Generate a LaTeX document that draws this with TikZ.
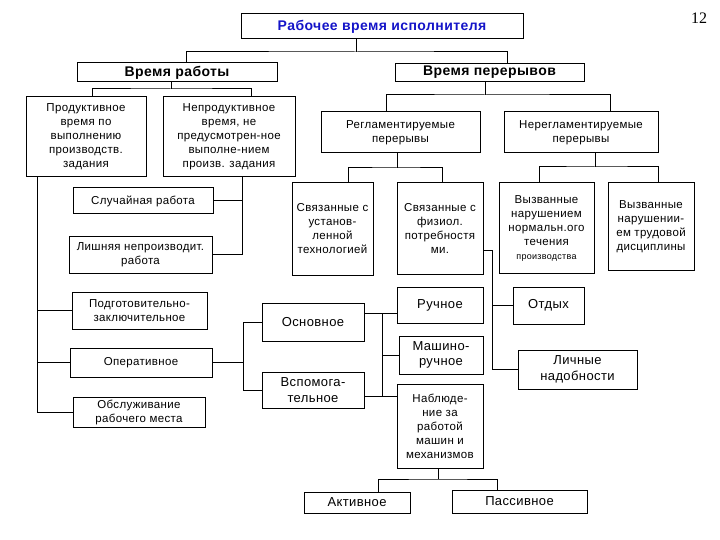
\documentclass[tikz,border=0pt]{standalone}
\usepackage{fontspec}
\setmainfont{Liberation Sans}[LetterSpace=3]
\newfontfamily\numfont{Liberation Serif}
\usetikzlibrary{calc}
\newcommand\fsz[2]{\fontsize{#1}{#2}\selectfont}
\definecolor{ttl}{RGB}{20,20,200}

\begin{document}
\begin{tikzpicture}[x=1pt,y=-1pt,line width=1pt,
 box/.style={draw,align=center,inner sep=1pt},
 sm/.style={box,font=\fsz{11.5}{14}},
 bg/.style={box,font=\fsz{13}{15.5}},
 hd/.style={box,font=\bfseries\fsz{14}{16}}]
\useasboundingbox(0,0)rectangle(720,540);
\node[font=\numfont\fsz{16}{18}](pg)at(699,18){12};
\node[hd,text=ttl,minimum width=282pt,minimum height=25pt](top)at(382,26.5){Рабочее время исполнителя};
\node[hd,minimum width=200pt,minimum height=19pt](rab)at(177,72.5){Время работы};
\node[hd,minimum width=189pt,minimum height=18pt](per)at(489.5,72.5){Время перерывов};
% work time
\node[sm,minimum width=120pt,minimum height=80pt](prod)at(86,137){Продуктивное\\время по\\выполнению\\производств.\\задания};
\node[sm,minimum width=132pt,minimum height=80pt](nprod)at(229,137){Непродуктивное\\время, не\\предусмотрен-ное\\выполне-нием\\произв. задания};
\node[sm,minimum width=140pt,minimum height=26pt](slu)at(143,201){Случайная работа};
\node[sm,minimum width=143pt,minimum height=37pt](lish)at(140.5,254.5){Лишняя непроизводит.\\работа};
\node[sm,minimum width=135pt,minimum height=37pt](podg)at(139.5,310.5){Подготовительно-\\заключительное};
\node[sm,minimum width=142pt,minimum height=29pt](oper)at(141,362.5){Оперативное};
\node[sm,minimum width=132pt,minimum height=30pt](obsl)at(139,412){Обслуживание\\рабочего места};
\node[bg,minimum width=102pt,minimum height=38pt](osn)at(313,322){Основное};
\node[bg,minimum width=102pt,minimum height=36pt](vsp)at(313,390){Вспомога-\\тельное};
\node[bg,minimum width=86pt,minimum height=36pt](ruch)at(440,305){Ручное};
\node[bg,minimum width=84pt,minimum height=38pt](mash)at(441,355){Машино-\\ручное};
\node[sm,minimum width=86pt,minimum height=84pt](nabl)at(440,426){Наблюде-\\ние за\\работой\\машин и\\механизмов};
\node[bg,minimum width=106pt,minimum height=21pt](akt)at(357,502.5){Активное};
\node[bg,minimum width=135pt,minimum height=23pt](pas)at(519.5,501.5){Пассивное};
% break time
\node[sm,minimum width=159pt,minimum height=41pt](regl)at(400.5,132.5){Регламентируемые\\перерывы};
\node[sm,minimum width=154pt,minimum height=41pt](nregl)at(581,132.5){Нерегламентируемые\\перерывы};
\node[sm,minimum width=81pt,minimum height=92pt](tech)at(332.5,229){Связанные с\\установ-\\ленной\\технологией};
\node[sm,minimum width=86pt,minimum height=91pt](fiz)at(440,228.5){Связанные с\\физиол.\\потребностя\\ми.};
\node[sm,minimum width=95pt,minimum height=90pt](narp)at(546.5,228){Вызванные\\нарушением\\нормальн.ого\\течения\\{\fsz{9}{14}производства}};
\node[sm,minimum width=86pt,minimum height=87pt](disc)at(651,226.5){Вызванные\\нарушении-\\ем трудовой\\дисциплины};
\node[bg,minimum width=71pt,minimum height=37pt](otd)at(548.5,305.5){Отдых};
\node[bg,minimum width=119pt,minimum height=39pt](lich)at(577.5,369.5){Личные\\надобности};
% connectors
\coordinate(j1)at(356,52);\coordinate(j2)at(171,89);\coordinate(j3)at(485,95);
\coordinate(j4)at(397,168);\coordinate(j5)at(595,167);\coordinate(j6)at(438,479);
\draw(top.south -| j1)--(j1);\draw(rab.north -| 186,0)|-(j1)-|(per.north -| 507,0);
\draw(rab.south -| j2)--(j2);\draw(prod.north -| 92,0)|-(j2)-|(nprod.north -| 251,0);
\draw(per.south -| j3)--(j3);\draw(regl.north -| 386,0)|-(j3)-|(nregl.north -| 610,0);
\draw(regl.south -| j4)--(j4);\draw(tech.north -| 348,0)|-(j4)-|(fiz.north -| 442,0);
\draw(nregl.south -| j5)--(j5);\draw(narp.north -| 539,0)|-(j5)-|(disc.north -| 658,0);
\draw(nprod.south -| 242,0)|-(lish.east);\draw(slu.east)--(slu.east -| 242,0);
\draw(prod.south -| 37,0)|-(obsl.west);\draw(podg.west)--(podg.west -| 37,0);\draw(oper.west)--(oper.west -| 37,0);
\draw(oper.east)--(oper.east -| 243,0);\draw(osn.west)-|(vsp.west -| 243,0)--(vsp.west);
\coordinate(k1)at(382,313);\coordinate(k2)at(382,396);
\draw(osn.east |- k1)--(ruch.west |- k1);\draw(vsp.east |- k2)--(nabl.west |- k2);
\draw(k1)--(k2);\draw(mash.west)--(mash.west -| k1);
\coordinate(m1)at(492,250);
\draw(fiz.east |- m1)--(m1)|-(lich.west);\draw(otd.west)--(otd.west -| m1);
\draw(nabl.south -| j6)--(j6);\draw(akt.north -| 378,0)|-(j6)-|(pas.north -| 497,0);
\end{tikzpicture}
\end{document}
